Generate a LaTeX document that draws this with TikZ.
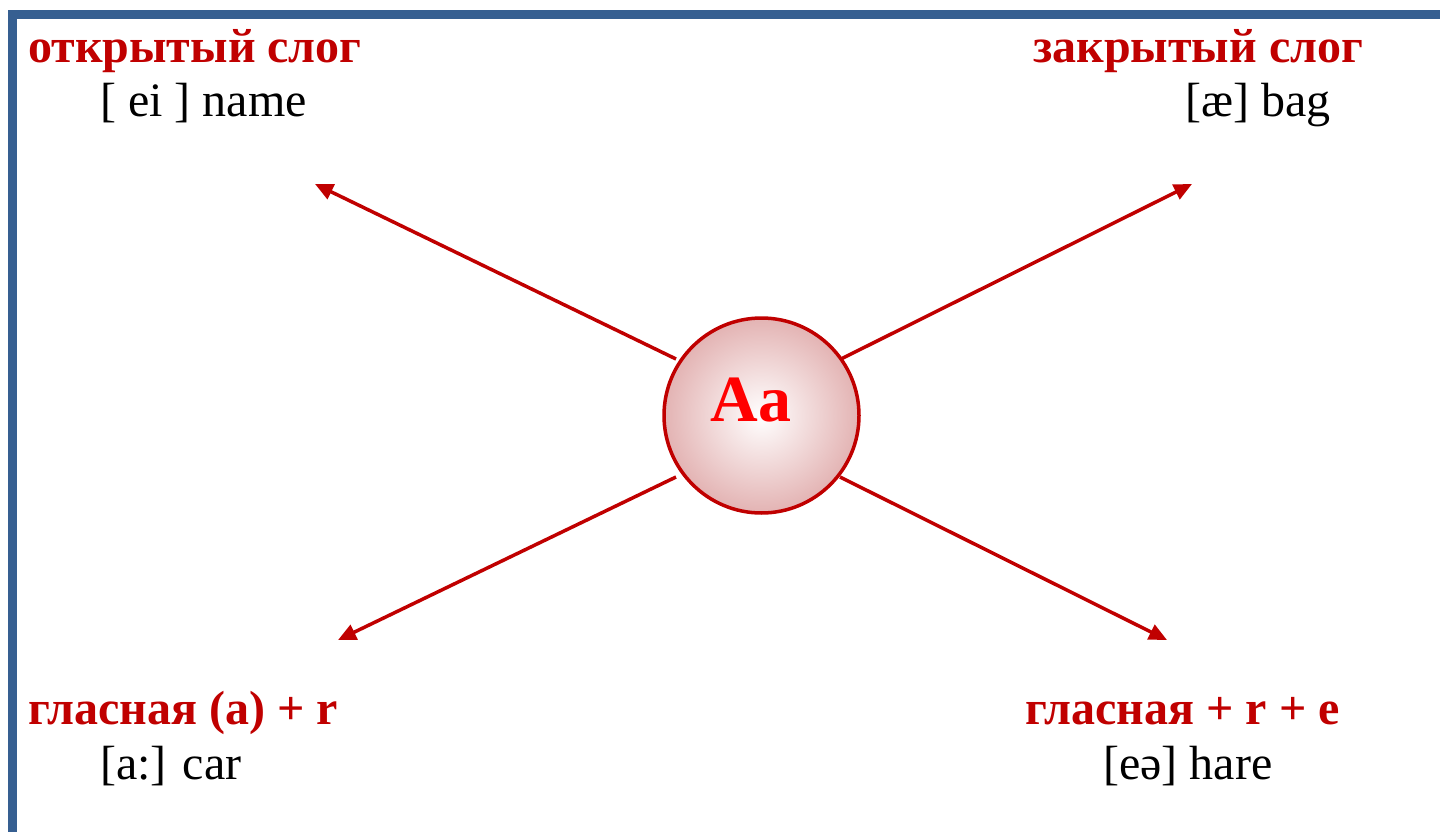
\documentclass[tikz,border=0pt]{standalone}
\usepackage{fontspec}
\setmainfont{Liberation Serif}
\usetikzlibrary{arrows.meta}
\definecolor{frameblue}{HTML}{365F91}
\definecolor{darkred}{HTML}{C00000}
\definecolor{pinkedge}{HTML}{E3B3B3}
\begin{document}
\begin{tikzpicture}[x=1pt,y=-1pt,
  title/.style={anchor=base west,inner sep=0pt,text=darkred,font=\fontsize{48}{54}\selectfont\bfseries},
  sound/.style={anchor=base west,inner sep=0pt,text=black,font=\fontsize{48}{54}\selectfont},
  arr/.style={draw=darkred,line width=3.5pt,-{Triangle[length=18pt,width=16pt]}}]
\useasboundingbox (0,0) rectangle (1440,832);
% frame
\fill[frameblue] (8,10) rectangle (1440,19);
\fill[frameblue] (8,10) rectangle (17,832);
% centre circle
\node[circle,minimum size=195pt,inner sep=0pt,draw=darkred,line width=3.5pt,
  inner color=white,outer color=pinkedge] (c) at (761.5,415.5) {};
\node[anchor=base,inner sep=0pt,text=red,font=\fontsize{66}{70}\selectfont\bfseries] (aa) at (751,421) {Aa};
% labels
\node[title] (t1) at (28,63) {открытый слог};
\node[sound] (s1) at (100,117) {[ ei ] name};
\node[title] (t2) at (1033,63) {закрытый слог};
\node[sound] (s2) at (1185,117) {[æ] bag};
\node[title] (t3) at (28,724) {гласная (а) + r};
\node[sound] (s3) at (100,779) {[a:] car};
\node[title] (t4) at (1025,724) {гласная + r + e};
\node[sound] (s4) at (1103,779) {[eə] hare};
% arrow coordinates
\coordinate (ul0) at (676,359);
\coordinate (ul1) at (315,184);
\coordinate (ur0) at (841,359);
\coordinate (ur1) at (1192,184);
\coordinate (ll0) at (676,477);
\coordinate (ll1) at (338,640);
\coordinate (lr0) at (840,477);
\coordinate (lr1) at (1167,640);
\draw[arr] (ul0) -- (ul1);
\draw[arr] (ur0) -- (ur1);
\draw[arr] (ll0) -- (ll1);
\draw[arr] (lr0) -- (lr1);
\end{tikzpicture}
\end{document}
